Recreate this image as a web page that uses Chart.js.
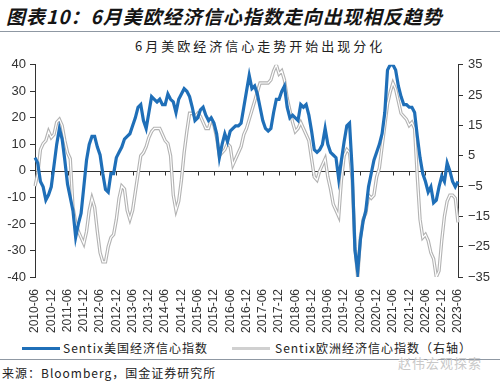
<!DOCTYPE html>
<html>
<head>
<meta charset="utf-8">
<script src="https://cdn.jsdelivr.net/npm/chart.js@4.4.0/dist/chart.umd.min.js"></script>
<style>
  body { margin: 0; width: 500px; height: 384px; background: #fff; position: relative; overflow: hidden;
         font-family: "Noto Sans CJK SC", sans-serif; color: #222; }
  .abs { position: absolute; white-space: nowrap; }
  #title { left: 6px; top: 2px; font-size: 19px; font-weight: bold; font-style: italic; letter-spacing: 1px; color: #151515; }
  #subtitle { left: 135px; top: 36px; font-size: 13px; letter-spacing: 3px; color: #222; }
  #chartBox { left: 0; top: 52px; width: 500px; height: 285px; }
  .rule { left: 0; width: 500px; height: 1px; background: #8f98a3; }
  .legend { top: 339px; font-size: 12px; letter-spacing: 1px; color: #222; }
  .swatch { position: absolute; top: 347px; width: 38px; height: 3px; }
  #source { left: 2px; top: 364px; font-size: 12px; letter-spacing: 1px; color: #222; }
  #mark { left: 398px; top: 353px; font-size: 13px; color: #c9c9c9; letter-spacing: 1px; }
</style>
</head>
<body>
<div id="title" class="abs">图表10：6月美欧经济信心指数走向出现相反趋势</div>
<div class="abs rule" style="top:31px"></div>
<div id="subtitle" class="abs">6月美欧经济信心走势开始出现分化</div>
<div id="chartBox" class="abs"><canvas id="sentixChart"></canvas></div>
<div class="swatch" style="left:22px;background:#1f6fb8"></div>
<div class="abs legend" style="left:63px">Sentix美国经济信心指数</div>
<div class="swatch" style="left:232px;background:#d0d0d0"></div>
<div class="abs legend" style="left:275px">Sentix欧洲经济信心指数（右轴）</div>
<div class="abs rule" style="top:359px"></div>
<div id="mark" class="abs">赵伟宏观探索</div>
<div id="source" class="abs">来源：Bloomberg，国金证券研究所</div>

<script>
// monthly categories, 2010-06 .. 2023-06
const months = [];
for (let y = 2010, m = 6; months.length < 157; m++) {
  if (m > 12) { m = 1; y++; }
  months.push(y + "-" + String(m).padStart(2, "0"));
}

// Sentix US economic confidence (left axis)
const usSentix = [
  5, 3, -4, -6, -11, -9, -6, 2, 10, 16,
  12, 4, -5, -10, -15, -25, -20, -16, -6, 4,
  10, 13, 13, 9, 6, -1, -7, -8, -1, -1,
  5, 7, 9, 12, 13, 14, 17, 20, 24, 25,
  19, 16, 22, 28, 27, 26, 27, 25, 25, 29,
  27, 26, 22, 27, 29, 31, 30, 28, 24, 19,
  20, 23, 24, 21, 19, 20, 18, 14, 5, 10,
  14, 11, 15, 16, 17, 17, 18, 24, 30, 36,
  31, 32, 29, 24, 19, 16, 15, 16, 22, 27,
  27, 30, 32, 24, 20, 21, 20, 19, 25, 24,
  25, 21, 15, 8, 7, 8, 10, 16, 10, 7,
  6, 5, -3, 4, 11, 17, 18, 0, -30, -38,
  -26, -19, -15, -6, -1, 4, 7, 10, 14, 22,
  38, 40, 40, 38, 32, 28, 25, 25, 24, 24,
  22, 13, 5, -1, -4, -8, -6, -12, -11, -6,
  -2, -4, 3, 0, -4, -6, -4
];

// Sentix Euro area economic confidence (right axis)
const euSentix = [
  -5, -1, 7, 9, 10, 13, 11, 12, 16, 17,
  15, 10, 6, 4, -12, -17, -20, -22, -24, -20,
  -13, -9, -12, -20, -27, -30, -30, -25, -22, -21,
  -16, -9, -5, -6, -13, -16, -13, -7, -1, 5,
  6, 8, 11, 13, 14, 14, 14, 12, 10, 9,
  5, -8, -13, -10, -3, 6, 13, 19, 19, 18,
  19, 18, 16, 14, 14, 17, 15, 11, 5, 6,
  7, 9, 8, 2, 4, 6, 8, 12, 14, 17,
  20, 23, 26, 29, 29, 29, 29, 30, 33, 35,
  32, 33, 30, 24, 20, 16, 13, 14, 16, 14,
  12, 10, 4, -2, -3, 0, 2, 4, -2, -6,
  -11, -13, -15, -3, 5, 7, 6, -3, -25, -35,
  -22, -16, -14, -8, -9, -8, -2, 1, 8, 15,
  22, 26, 29, 27, 23, 19, 18, 17, 15, 16,
  14, -2, -16, -22, -21, -23, -27, -29, -35, -33,
  -23, -15, -10, -8, -8, -9, -17
];

const leftTicks = [-40, -30, -20, -10, 0, 10, 20, 30, 40];
const rightTicks = [-35, -25, -15, -5, 5, 15, 25, 35];

// horizontal axis drawn through zero, with half-year tick marks
const zeroAxis = {
  id: "zeroAxis",
  beforeDatasetsDraw(chart) {
    const { ctx, chartArea, scales } = chart;
    const y0 = Math.round(scales.y.getPixelForValue(0)) + 0.5;
    ctx.save();
    ctx.strokeStyle = "#333";
    ctx.lineWidth = 1;
    ctx.beginPath();
    ctx.moveTo(chartArea.left, y0);
    ctx.lineTo(chartArea.right, y0);
    months.forEach((m, i) => {
      if (i % 6 === 0) {
        const x = Math.round(scales.x.getPixelForValue(i)) + 0.5;
        ctx.moveTo(x, y0);
        ctx.lineTo(x, y0 + 4);
      }
    });
    ctx.stroke();
    ctx.restore();
  },
};

const tickFont = { family: "'Liberation Sans', Arial, sans-serif", size: 13 };

new Chart(document.getElementById("sentixChart"), {
  type: "line",
  data: {
    labels: months,
    datasets: [
      {
        label: "Sentix美国经济信心指数",
        data: usSentix,
        yAxisID: "y",
        borderColor: "#1f6fb8",
        borderWidth: 3.2,
        pointRadius: 0,
        order: 0,
      },
      {
        label: "Sentix欧洲经济信心指数（右轴）",
        data: euSentix,
        yAxisID: "y1",
        borderColor: "#b3b3b3",
        borderWidth: 3.4,
        pointRadius: 0,
        order: 2,
      },
      {
        label: "core",
        data: euSentix,
        yAxisID: "y1",
        borderColor: "#ffffff",
        borderWidth: 1.2,
        pointRadius: 0,
        order: 1,
      },
    ],
  },
  options: {
    responsive: true,
    maintainAspectRatio: false,
    animation: false,
    layout: { padding: { top: 10, left: 0, right: 0, bottom: 0 } },
    plugins: {
      legend: { display: false },
      tooltip: { enabled: false },
    },
    scales: {
      x: {
        grid: { display: false },
        border: { display: false },
        ticks: {
          autoSkip: false,
          minRotation: 90,
          maxRotation: 90,
          padding: 4,
          color: "#333",
          font: { family: "'Liberation Sans', Arial, sans-serif", size: 12 },
          callback: (v, i) => (i % 6 === 0 ? months[i] : null),
        },
        afterFit: (s) => { s.height = 60; },
      },
      y: {
        position: "left",
        min: -40,
        max: 40,
        afterBuildTicks: (s) => { s.ticks = leftTicks.map((v) => ({ value: v })); },
        grid: { drawOnChartArea: false, drawTicks: true, tickLength: 5, color: "#333" },
        border: { display: true, color: "#333" },
        ticks: { color: "#333", font: tickFont, padding: 4 },
        afterFit: (s) => { s.width = 35; },
      },
      y1: {
        position: "right",
        min: -35,
        max: 35,
        afterBuildTicks: (s) => { s.ticks = rightTicks.map((v) => ({ value: v })); },
        grid: { drawOnChartArea: false, drawTicks: true, tickLength: 5, color: "#333" },
        border: { display: true, color: "#333" },
        ticks: {
          color: "#333",
          font: tickFont,
          padding: 5,
          callback: (v) => (v < 0 ? "\u2212" + Math.abs(v) : String(v)),
        },
        afterFit: (s) => { s.width = 42; },
      },
    },
  },
  plugins: [zeroAxis],
});
</script>
</body>
</html>
